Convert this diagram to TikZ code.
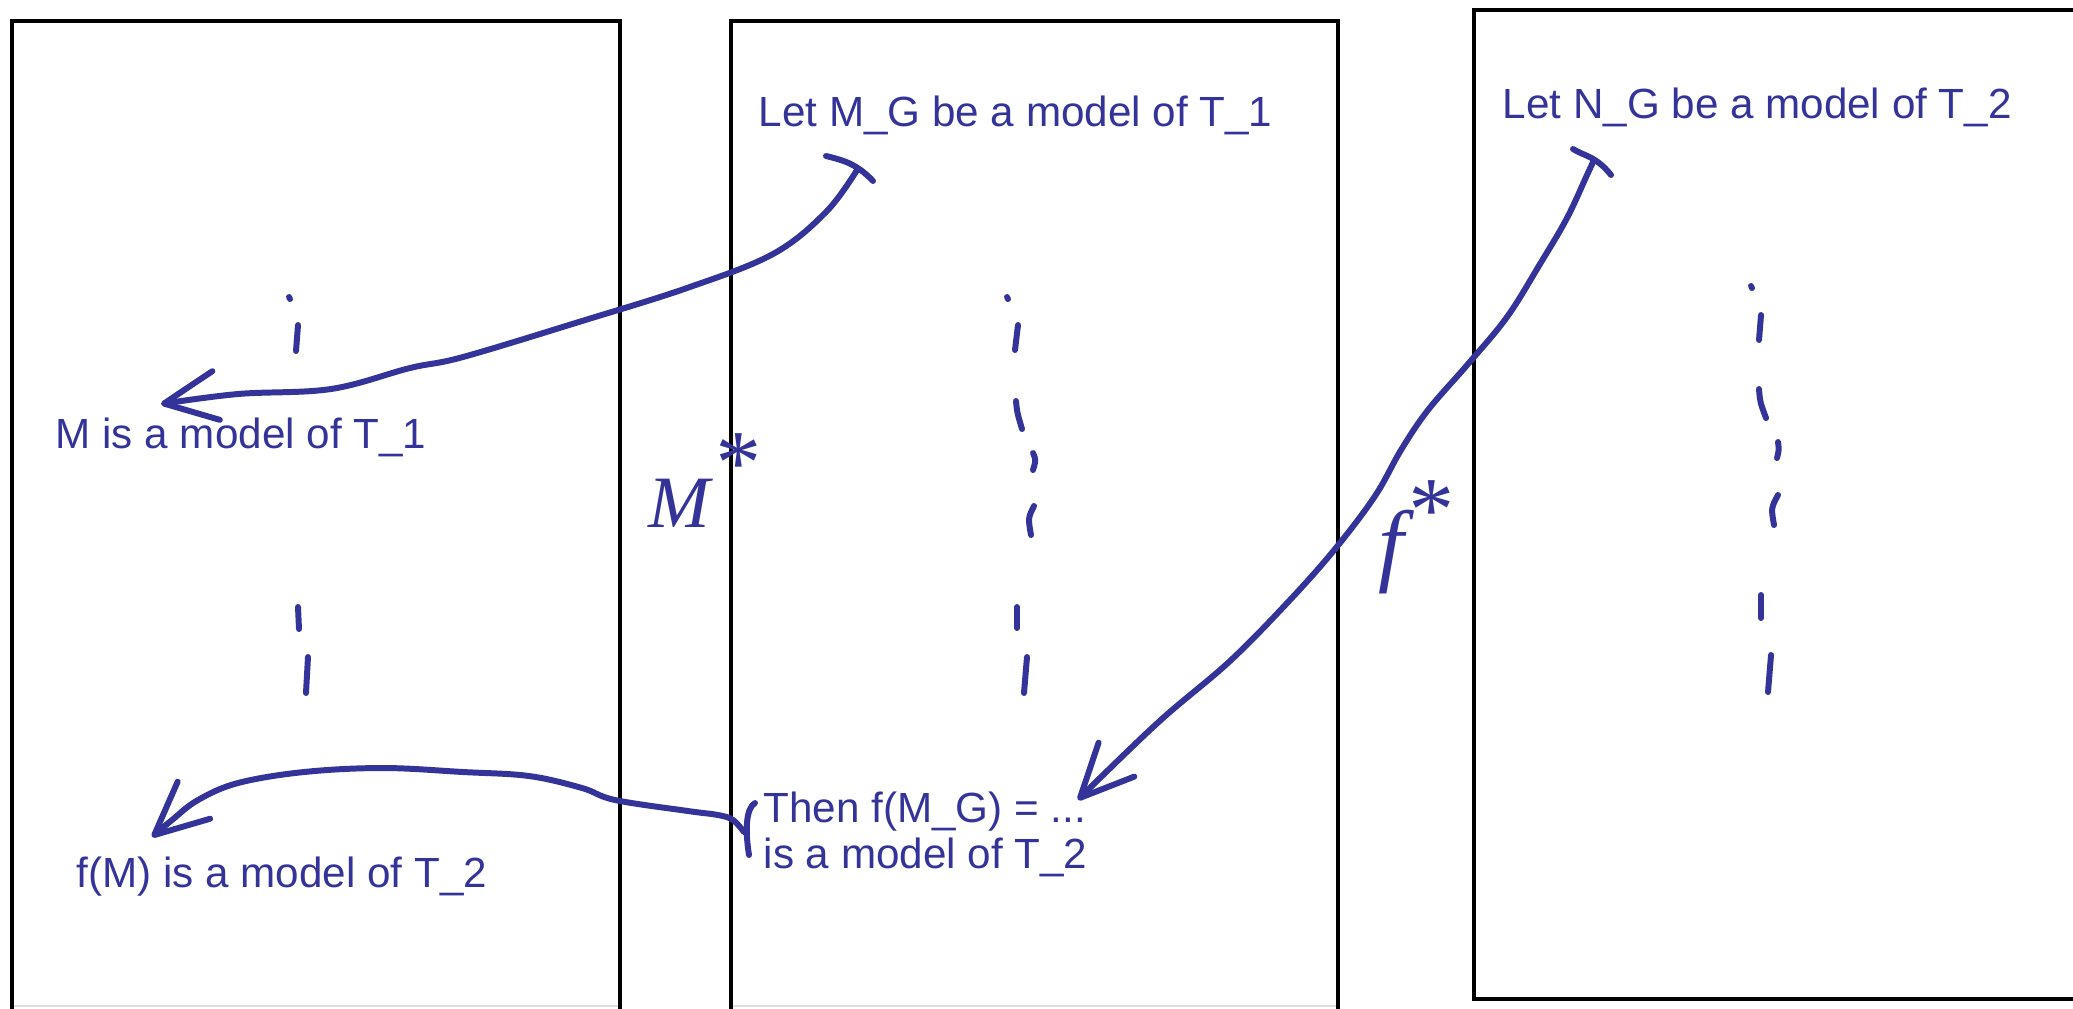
\documentclass[tikz,border=0pt]{standalone}
\usepackage{fontspec}
\setmainfont{Liberation Sans}
\newfontfamily\handfont{Liberation Serif}
\usetikzlibrary{arrows.meta}
\definecolor{inkblue}{RGB}{51,51,153}

\begin{document}
\begin{tikzpicture}[
  x=0.01cm, y=-0.01cm,
  frame/.style={draw=black, line width=1.4pt},
  pen/.style={draw=inkblue, line width=1.7pt, line cap=round, line join=round},
  arr/.style={pen, -{Straight Barb[length=15pt, width=14pt, round]}},
  note/.style={text=inkblue, font=\fontsize{12}{13}\selectfont, inner sep=0pt,
               anchor=base west, align=left},
  hand/.style={text=inkblue, inner sep=0pt, anchor=base west}
]
  \useasboundingbox (0,0) rectangle (2073,1008);

  % the three frames
  \draw[frame] (12,1010) -- (12,21) -- (620,21) -- (620,1010);
  \draw[frame] (731,1010) -- (731,21) -- (1338,21) -- (1338,1010);
  \draw[frame] (2080,999) -- (1474,999) -- (1474,10) -- (2080,10);
  \draw[gray!25, line width=0.8pt] (14,1006) -- (618,1006) (733,1006) -- (1336,1006);

  % statements
  \node[note] (mg)   at (758,126) {Let M\_G be a model of T\_1};
  \node[note] (ng)   at (1502,118) {Let N\_G be a model of T\_2};
  \node[note] (m)    at (55,448)  {M is a model of T\_1};
  \node[note] (fm)   at (76,887)  {f(M) is a model of T\_2};
  \node[note] (then) at (763,868) {Then f(M\_G) = ...\\is a model of T\_2};

  % handwritten maps
  \node[hand, font=\handfont\itshape\fontsize{21}{21}\selectfont] (mstar) at (648,527)
    {M\kern0.02em\raisebox{0.45em}{\fontsize{26}{26}\selectfont *}};
  \node[hand, font=\handfont\itshape\fontsize{26}{26}\selectfont] (fstar) at (1378,574)
    {f\raisebox{0.37em}{*}};

  % dotted columns
  \draw[pen] (289,297) -- (290,299);
  \draw[pen] (298,325) -- (296,351);
  \draw[pen] (298,607) -- (299,629);
  \draw[pen] (308,657) -- (306,693);

  \draw[pen] (1007,297) -- (1008,299);
  \draw[pen] (1018,325) -- (1015,350);
  \draw[pen] (1016,401) .. controls (1017,412) .. (1022,429);
  \draw[pen] (1033,453) .. controls (1036,460) .. (1033,470);
  \draw[pen] (1034,506) .. controls (1028,518) .. (1031,535);
  \draw[pen] (1017,607) -- (1017,628);
  \draw[pen] (1027,657) -- (1024,693);

  \draw[pen] (1751,286) -- (1752,288);
  \draw[pen] (1761,315) -- (1759,340);
  \draw[pen] (1759,389) .. controls (1760,402) .. (1766,418);
  \draw[pen] (1778,442) .. controls (1779,450) .. (1777,458);
  \draw[pen] (1778,495) .. controls (1771,508) .. (1774,525);
  \draw[pen] (1761,595) -- (1761,618);
  \draw[pen] (1771,655) -- (1768,692);

  % pen ticks at the arrow tails
  \draw[pen] (826,156) .. controls (842,160) and (856,163) .. (873,181);
  \draw[pen] (1573,149) .. controls (1584,156) and (1596,156) .. (1611,175);
  \draw[pen] (755,803) .. controls (746,808) and (745,830) .. (749,855);

  % arrows
  \coordinate (mgtail)   at (857,170);
  \coordinate (mhead)    at (161,404);
  \coordinate (thentail) at (744,832);
  \coordinate (fmhead)   at (152,837);
  \coordinate (ngtail)   at (1594,160);
  \coordinate (thenhead) at (1078,800);

  \draw[arr] plot[smooth, tension=0.6] coordinates {(mgtail) (826,212) (773,254)
    (687,288) (582,321) (463,357) (410,368) (331,389) (238,394) (mhead)};
  \draw[arr] plot[smooth, tension=0.6] coordinates {(thentail) (733,820) (718,815)
    (688,811) (615,800) (582,788) (529,776) (463,772) (383,768) (304,772)
    (238,783) (198,800) (172,820) (fmhead)};
  \draw[arr] plot[smooth, tension=0.6] coordinates {(ngtail) (1587,175) (1567,218)
    (1540,264) (1507,317) (1468,364) (1428,410) (1401,450) (1375,496) (1335,549)
    (1289,601) (1230,661) (1163,718) (1102,776) (thenhead)};
\end{tikzpicture}
\end{document}
